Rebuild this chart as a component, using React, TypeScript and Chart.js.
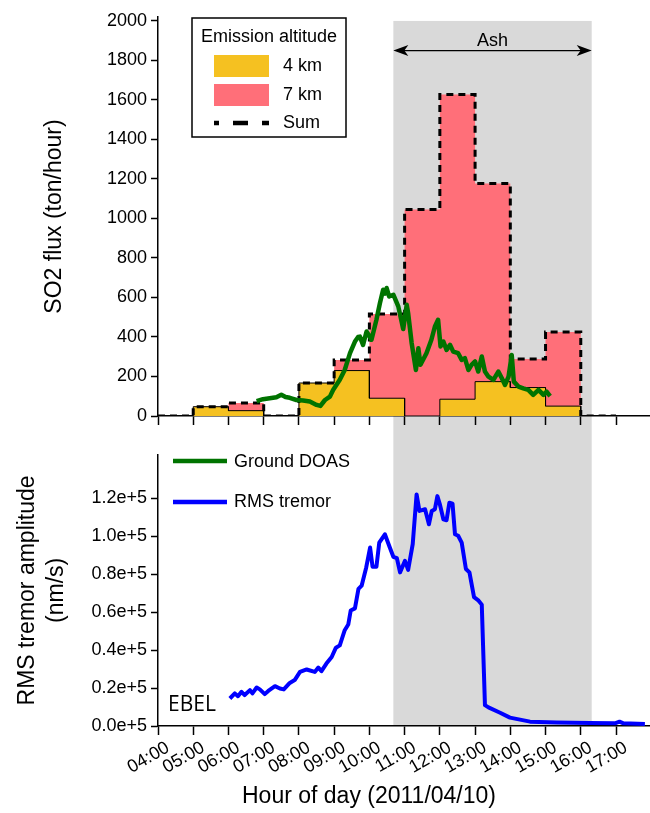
import React, { useEffect, useRef } from 'react';
import { Chart, registerables } from 'chart.js';

Chart.register(...registerables);

// ---------- data ----------
const hourTicks = [4, 5, 6, 7, 8, 9, 10, 11, 12, 13, 14, 15, 16, 17];
const hourLabels = ['04:00', '05:00', '06:00', '07:00', '08:00', '09:00', '10:00', '11:00', '12:00', '13:00', '14:00', '15:00', '16:00', '17:00'];
const xMin = 4;
const xMax = 17.965;

// hourly emission bins (start hour of each bin)
const binStart = [4, 5, 6, 7, 8, 9, 10, 11, 12, 13, 14, 15, 16];
const flux4km = [0, 47, 27, 0, 167, 230, 90, 0, 85, 174, 144, 50, 0];
const flux7km = [0, 0, 39, 0, 0, 53, 426, 1045, 1543, 1003, 144, 375, 0];

const fluxTicks = [0, 200, 400, 600, 800, 1000, 1200, 1400, 1600, 1800, 2000];
const fluxAxisMax = 2020;

// ground DOAS SO2 flux
const doasHour = [6.80, 6.98, 7.17, 7.36, 7.50, 7.62, 7.74, 7.93, 8.12, 8.31, 8.50, 8.61, 8.74, 8.88, 8.97, 9.16, 9.30, 9.45, 9.59, 9.68, 9.73, 9.82, 9.92, 10.06, 10.20, 10.30, 10.39, 10.45, 10.49, 10.56, 10.68, 10.82, 10.96, 11.06, 11.10, 11.20, 11.32, 11.39, 11.45, 11.62, 11.76, 11.86, 11.95, 12.02, 12.10, 12.19, 12.29, 12.38, 12.52, 12.62, 12.71, 12.81, 12.90, 13.00, 13.09, 13.19, 13.28, 13.38, 13.52, 13.66, 13.76, 13.85, 13.95, 14.04, 14.10, 14.23, 14.37, 14.51, 14.65, 14.80, 14.94, 15.03, 15.13];
const doasFlux = [75, 85, 90, 95, 108, 96, 92, 81, 78, 73, 56, 51, 81, 98, 132, 183, 233, 318, 377, 400, 402, 360, 428, 386, 487, 572, 639, 620, 648, 605, 614, 555, 440, 563, 521, 369, 233, 343, 259, 318, 386, 453, 487, 352, 377, 335, 360, 326, 318, 284, 293, 233, 259, 276, 225, 301, 225, 199, 183, 225, 191, 157, 199, 309, 174, 149, 140, 132, 107, 132, 107, 123, 101];

// RMS tremor amplitude (nm/s)
const tremorHour = [6.04, 6.18, 6.27, 6.37, 6.46, 6.61, 6.68, 6.80, 6.89, 7.03, 7.13, 7.32, 7.46, 7.57, 7.74, 7.88, 8.03, 8.22, 8.45, 8.55, 8.64, 8.78, 8.93, 9.05, 9.16, 9.30, 9.40, 9.47, 9.59, 9.69, 9.78, 9.91, 10.02, 10.09, 10.20, 10.28, 10.44, 10.58, 10.68, 10.78, 10.87, 11.01, 11.10, 11.23, 11.34, 11.42, 11.58, 11.69, 11.77, 11.86, 11.93, 12.00, 12.10, 12.19, 12.27, 12.36, 12.43, 12.52, 12.62, 12.74, 12.84, 12.97, 13.10, 13.19, 13.28, 13.38, 13.71, 13.99, 14.56, 15.32, 16.26, 16.97, 17.10, 17.21, 17.82];
const tremorAmp = [14500, 17200, 15700, 18000, 16300, 18900, 17200, 20300, 19300, 16800, 18500, 21000, 19800, 19300, 22700, 24200, 28500, 29800, 28500, 30800, 28900, 32900, 36400, 41300, 42500, 50500, 53500, 60900, 62000, 72300, 74000, 83600, 94100, 84000, 84000, 96700, 101100, 94100, 89200, 88500, 81000, 87100, 82300, 95900, 122100, 113400, 114300, 106400, 113400, 114300, 121200, 116900, 109000, 108500, 117700, 117200, 101100, 100300, 96700, 82800, 81000, 67900, 66100, 64000, 11000, 9800, 7000, 4400, 2300, 1900, 1600, 1400, 2300, 1400, 1100];
const tremorTicks = [0, 20000, 40000, 60000, 80000, 100000, 120000];
const tremorTickLabels = ['0.0e+5', '0.2e+5', '0.4e+5', '0.6e+5', '0.8e+5', '1.0e+5', '1.2e+5'];
const tremorAxisMax = 143000;

// ash emission period (hours)
const ashStart = 10.68;
const ashEnd = 16.31;
const ashArrowValue = 1850;
const ashLabelValue = 1900;

const legendTitle = 'Emission altitude';
const legendLabels = ['4 km', '7 km', 'Sum'];
const seriesLabels = ['Ground DOAS', 'RMS tremor'];
const stationName = 'EBEL';

// ---------- styles ----------
const FONT = '"Liberation Sans", Arial, Helvetica, sans-serif';
const YELLOW = '#F5C121';
const PINK = '#FF6F79';
const GRAY = '#D9D9D9';
const GREEN = '#007300';
const BLUE = '#0000FF';

function stepPoints(values: number[]) {
  const pts: { x: number; y: number }[] = [];
  binStart.forEach((h, i) => {
    pts.push({ x: h, y: values[i] });
    pts.push({ x: h + 1, y: values[i] });
  });
  return pts;
}

const sumFlux = flux4km.map((v, i) => v + flux7km[i]);

const border = { display: true, color: '#000', width: 1.5 };
function grid(len: number) {
  return { drawOnChartArea: false, drawTicks: true, tickLength: len, tickColor: '#000', tickWidth: 1.5 };
}

function ashBandPlugin(isTop: boolean) {
  return {
    id: 'ashBand' + (isTop ? 'Top' : 'Bottom'),
    beforeDraw(chart: any) {
      const { ctx } = chart;
      const xs = chart.scales.x;
      const x0 = xs.getPixelForValue(ashStart);
      const x1 = xs.getPixelForValue(ashEnd);
      const y0 = isTop ? chart.scales.y.getPixelForValue(fluxTicks[fluxTicks.length - 1]) : 0;
      const y1 = isTop ? chart.height : chart.chartArea.bottom;
      ctx.save();
      ctx.fillStyle = GRAY;
      ctx.fillRect(x0, y0, x1 - x0, y1 - y0);
      ctx.restore();
    },
  };
}

const topOverlay = {
  id: 'topOverlay',
  afterDraw(chart: any) {
    const { ctx } = chart;
    const xs = chart.scales.x;
    const ys = chart.scales.y;
    ctx.save();
    // Ash arrow
    const ax0 = xs.getPixelForValue(ashStart);
    const ax1 = xs.getPixelForValue(ashEnd);
    const ay = ys.getPixelForValue(ashArrowValue);
    ctx.strokeStyle = '#000';
    ctx.fillStyle = '#000';
    ctx.lineWidth = 1.3;
    ctx.beginPath();
    ctx.moveTo(ax0 + 4, ay);
    ctx.lineTo(ax1 - 4, ay);
    ctx.stroke();
    const head = (tip: number, dir: number) => {
      ctx.beginPath();
      ctx.moveTo(tip, ay);
      ctx.lineTo(tip + dir * 15, ay - 5.5);
      ctx.lineTo(tip + dir * 11, ay);
      ctx.lineTo(tip + dir * 15, ay + 5.5);
      ctx.closePath();
      ctx.fill();
    };
    head(ax0, 1);
    head(ax1, -1);
    ctx.font = '18px ' + FONT;
    ctx.textAlign = 'center';
    ctx.textBaseline = 'middle';
    ctx.fillText('Ash', (ax0 + ax1) / 2, ys.getPixelForValue(ashLabelValue));

    // legend box
    ctx.fillStyle = '#fff';
    ctx.fillRect(192, 18, 154, 119);
    ctx.strokeStyle = '#000';
    ctx.lineWidth = 1.5;
    ctx.strokeRect(192, 18, 154, 119);
    ctx.fillStyle = '#000';
    ctx.font = '18px ' + FONT;
    ctx.textAlign = 'center';
    ctx.fillText(legendTitle, 269, 37);
    ctx.textAlign = 'left';
    ctx.fillStyle = YELLOW;
    ctx.fillRect(214, 55, 55, 22);
    ctx.fillStyle = PINK;
    ctx.fillRect(214, 84, 55, 22);
    ctx.strokeStyle = '#000';
    ctx.lineWidth = 4.5;
    ctx.setLineDash([15, 14]);
    ctx.lineDashOffset = 10;
    ctx.beginPath();
    ctx.moveTo(214, 123);
    ctx.lineTo(269, 123);
    ctx.stroke();
    ctx.setLineDash([]);
    ctx.fillStyle = '#000';
    ctx.fillText(legendLabels[0], 283, 66);
    ctx.fillText(legendLabels[1], 283, 95);
    ctx.fillText(legendLabels[2], 283, 123);
    ctx.restore();
  },
};

const bottomOverlay = {
  id: 'bottomOverlay',
  afterDraw(chart: any) {
    const { ctx } = chart;
    ctx.save();
    ctx.lineWidth = 4.5;
    ctx.strokeStyle = GREEN;
    ctx.beginPath();
    ctx.moveTo(173, 21);
    ctx.lineTo(227, 21);
    ctx.stroke();
    ctx.strokeStyle = BLUE;
    ctx.beginPath();
    ctx.moveTo(173, 62);
    ctx.lineTo(227, 62);
    ctx.stroke();
    ctx.fillStyle = '#000';
    ctx.font = '18px ' + FONT;
    ctx.textAlign = 'left';
    ctx.textBaseline = 'middle';
    ctx.fillText(seriesLabels[0], 234, 22);
    ctx.fillText(seriesLabels[1], 234, 62);
    ctx.font = '21px "Open Sans", sans-serif';
    ctx.fillText(stationName, 168, 265);
    ctx.font = '23px ' + FONT;
    ctx.textAlign = 'center';
    ctx.fillText('Hour of day (2011/04/10)', 369, 357);
    ctx.restore();
  },
};

export default function App() {
  const topRef = useRef<HTMLCanvasElement>(null);
  const botRef = useRef<HTMLCanvasElement>(null);

  useEffect(() => {
    Chart.defaults.font.family = FONT;
    Chart.defaults.color = '#000';

    const top = new Chart(topRef.current as HTMLCanvasElement, {
      type: 'line',
      data: {
        datasets: [
          {
            label: 'Ground DOAS',
            data: doasHour.map((h, i) => ({ x: h, y: doasFlux[i] })),
            borderColor: GREEN,
            borderWidth: 4.5,
            pointRadius: 0,
            fill: false,
            borderJoinStyle: 'round',
          },
          {
            label: 'Sum',
            data: stepPoints(sumFlux),
            borderColor: '#000',
            borderWidth: 3,
            borderDash: [7, 5],
            pointRadius: 0,
            fill: false,
          },
          {
            label: '4 km',
            data: stepPoints(flux4km),
            borderColor: '#000',
            borderWidth: 1,
            backgroundColor: YELLOW,
            pointRadius: 0,
            fill: 'origin',
          },
          {
            label: '7 km',
            data: stepPoints(sumFlux),
            borderWidth: 0,
            borderColor: 'rgba(0,0,0,0)',
            backgroundColor: PINK,
            pointRadius: 0,
            fill: 'origin',
          },
        ],
      } as any,
      options: {
        animation: false,
        responsive: false,
        devicePixelRatio: 1,
        events: [],
        layout: { padding: { top: 17, left: 0, right: 0, bottom: 0 } },
        plugins: { legend: { display: false }, tooltip: { enabled: false } },
        scales: {
          x: {
            type: 'linear',
            min: xMin,
            max: xMax,
            afterBuildTicks: (s: any) => { s.ticks = hourTicks.map((v) => ({ value: v })); },
            ticks: { display: false },
            grid: grid(9),
            border,
            afterFit: (s: any) => { s.height = 24; },
          },
          y: {
            min: 0,
            max: fluxAxisMax,
            afterBuildTicks: (s: any) => { s.ticks = fluxTicks.map((v) => ({ value: v })); },
            ticks: { font: { size: 18 }, color: '#000', padding: 4, autoSkip: false, callback: (v: any) => String(v) },
            grid: grid(7),
            border,
            title: { display: true, text: 'SO2 flux (ton/hour)', font: { size: 23 }, color: '#000', padding: { top: 41, bottom: 0 } },
            afterFit: (s: any) => { s.width = 158; },
          },
        },
      } as any,
      plugins: [ashBandPlugin(true), topOverlay],
    });

    const bot = new Chart(botRef.current as HTMLCanvasElement, {
      type: 'line',
      data: {
        datasets: [
          {
            label: 'RMS tremor',
            data: tremorHour.map((h, i) => ({ x: h, y: tremorAmp[i] })),
            borderColor: BLUE,
            borderWidth: 4,
            pointRadius: 0,
            fill: false,
            borderJoinStyle: 'round',
          },
        ],
      } as any,
      options: {
        animation: false,
        responsive: false,
        devicePixelRatio: 1,
        events: [],
        layout: { padding: { top: 13, left: 0, right: 0, bottom: 0 } },
        plugins: { legend: { display: false }, tooltip: { enabled: false } },
        scales: {
          x: {
            type: 'linear',
            min: xMin,
            max: xMax,
            afterBuildTicks: (s: any) => { s.ticks = hourTicks.map((v) => ({ value: v })); },
            ticks: {
              font: { size: 18 },
              color: '#000',
              autoSkip: false,
              minRotation: 30,
              maxRotation: 30,
              padding: 2,
              labelOffset: 10,
              callback: (_v: any, i: number) => hourLabels[i],
            },
            grid: grid(9),
            border,
            afterFit: (s: any) => { s.height = 87; },
          },
          y: {
            min: 0,
            max: tremorAxisMax,
            afterBuildTicks: (s: any) => { s.ticks = tremorTicks.map((v) => ({ value: v })); },
            ticks: { font: { size: 18 }, color: '#000', padding: 4, autoSkip: false, callback: (_v: any, i: number) => tremorTickLabels[i] },
            grid: grid(7),
            border,
            title: {
              display: true,
              text: ['RMS tremor amplitude', '(nm/s)'],
              font: { size: 23, lineHeight: 1.28 },
              color: '#000',
              padding: { top: 12.6, bottom: 0 },
            },
            afterFit: (s: any) => { s.width = 158; },
          },
        },
      } as any,
      plugins: [ashBandPlugin(false), bottomOverlay],
    });

    return () => {
      top.destroy();
      bot.destroy();
    };
  }, []);

  return (
    <div style={{ position: 'absolute', left: 0, top: 0, width: 650, height: 813, background: '#fff' }}>
      <canvas ref={topRef} width={650} height={440} style={{ position: 'absolute', left: 0, top: 0, width: 650, height: 440 }} />
      <canvas ref={botRef} width={650} height={373} style={{ position: 'absolute', left: 0, top: 440, width: 650, height: 373 }} />
    </div>
  );
}
